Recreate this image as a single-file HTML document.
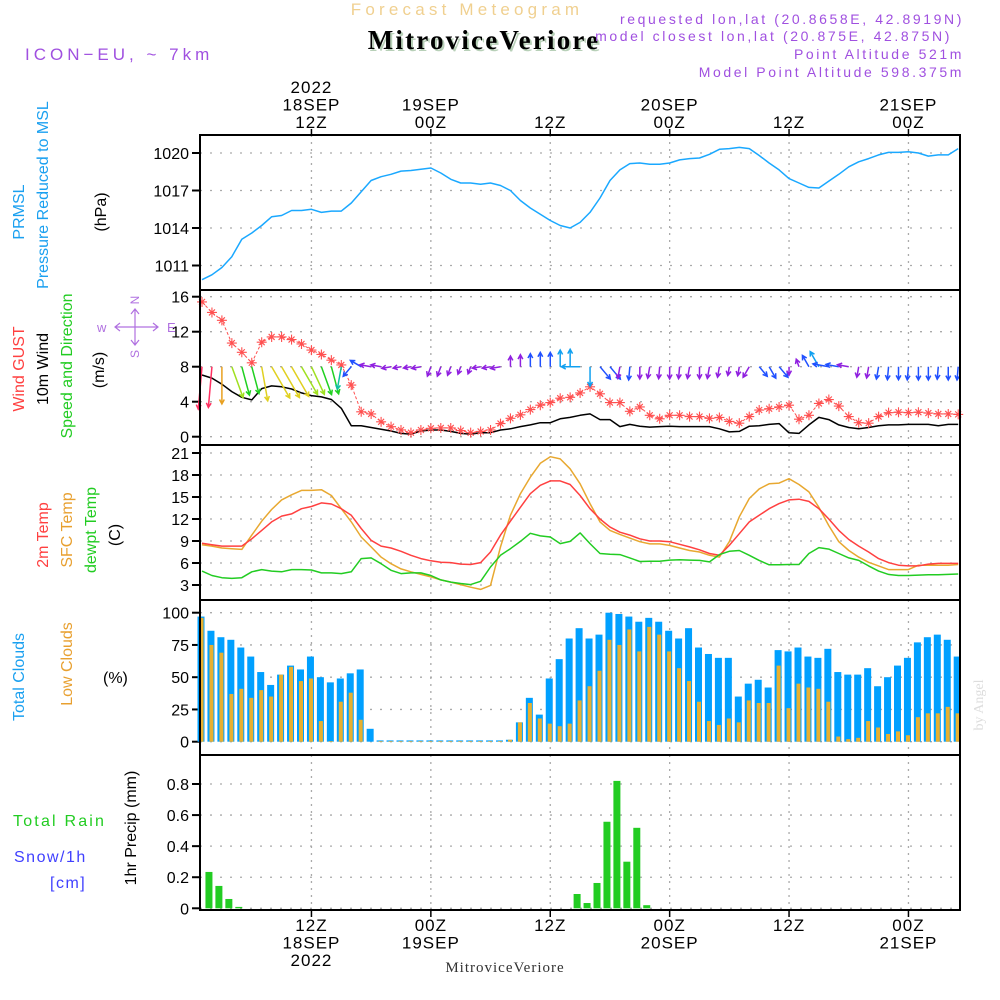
<!DOCTYPE html>
<html><head><meta charset="utf-8"><style>
html,body{margin:0;padding:0;background:#fff;}
svg{display:block;font-family:"Liberation Sans",sans-serif;}
</style></head><body>
<svg id="chart" width="1000" height="1000" viewBox="0 0 1000 1000" xmlns="http://www.w3.org/2000/svg">
<text x="467" y="15" font-size="17" fill="#f0d090" text-anchor="middle" letter-spacing="4.2">Forecast Meteogram</text>
<text x="486" y="51" font-size="27" font-weight="bold" font-family="Liberation Serif,serif" fill="#b8d0b8" text-anchor="middle" letter-spacing="2.2">MitroviceVeriore</text>
<text x="484" y="49" font-size="27" font-weight="bold" font-family="Liberation Serif,serif" fill="#000" text-anchor="middle" letter-spacing="2.2">MitroviceVeriore</text>
<text x="25" y="60" font-size="17" fill="#a050e0" letter-spacing="4">ICON−EU, ~ 7km</text>
<g font-size="14" fill="#a050e0" text-anchor="end" letter-spacing="2.6">
<text x="964" y="24">requested lon,lat (20.8658E, 42.8919N)</text>
<text x="952" y="41">model closest lon,lat (20.875E, 42.875N)</text>
<text x="964" y="59">Point Altitude 521m</text>
<text x="964" y="77">Model Point Altitude 598.375m</text>
</g>
<text x="505" y="972" font-size="15" font-family="Liberation Serif,serif" fill="#333" text-anchor="middle" letter-spacing="1">MitroviceVeriore</text>
<text transform="translate(983,705) rotate(-90)" font-size="14" font-family="Liberation Serif,serif" fill="#ddd" text-anchor="middle">by Angel</text>
<g id="g"></g>
</svg>
<script>
// ---------- data (hour index t = 1..77, starting 18SEP 01Z) ----------
const hours = Array.from({length:77},(_,i)=>i+1);
const pressure = [1009.86,1010.26,1010.84,1011.7,1013.1,1013.6,1014.2,1014.9,1015.0,1015.4,1015.4,1015.5,1015.25,1015.35,1015.35,1016.0,1016.9,1017.8,1018.1,1018.3,1018.55,1018.6,1018.7,1018.8,1018.4,1017.9,1017.6,1017.6,1017.5,1017.6,1017.4,1017.0,1016.2,1015.6,1015.1,1014.6,1014.2,1014.0,1014.45,1015.25,1016.4,1017.8,1018.65,1019.15,1019.2,1019.1,1019.1,1019.2,1019.45,1019.55,1019.6,1019.9,1020.3,1020.35,1020.45,1020.35,1019.8,1019.2,1018.65,1017.95,1017.6,1017.25,1017.2,1017.75,1018.3,1018.9,1019.3,1019.55,1019.85,1020.05,1020.05,1020.1,1020.0,1019.75,1019.85,1019.85,1020.35];
const gust = [15.4,14.2,13.3,10.7,9.65,8.45,10.8,11.4,11.4,11.1,10.6,9.9,9.4,8.75,8.2,5.9,2.85,2.6,1.7,1.15,0.77,0.46,0.77,0.96,1.0,1.0,0.7,0.46,0.6,0.77,1.5,2.1,2.5,3.1,3.6,3.9,4.4,4.5,5.0,5.7,4.9,3.9,3.9,2.9,3.4,2.45,2.05,2.45,2.45,2.3,2.3,2.1,2.2,1.75,1.55,2.3,3.05,3.2,3.4,3.6,2.0,2.45,3.8,4.25,3.5,2.3,1.6,1.55,2.3,2.75,2.8,2.75,2.8,2.7,2.6,2.6,2.55];
const wind10 = [7.05,6.7,6.0,5.15,4.5,4.2,5.5,5.8,5.7,5.45,5.0,4.7,4.55,4.25,3.25,1.25,1.25,1.05,0.85,0.65,0.38,0.3,0.65,0.77,0.77,0.6,0.38,0.3,0.46,0.46,0.77,0.9,1.15,1.35,1.6,1.6,2.05,2.2,2.45,2.6,1.95,1.95,1.15,1.4,1.2,1.1,1.15,1.2,1.15,1.15,1.15,1.15,0.9,0.55,0.6,1.2,1.25,1.4,1.5,0.45,0.38,1.35,2.2,1.95,1.35,1.05,0.9,1.05,1.25,1.35,1.35,1.4,1.4,1.4,1.25,1.4,1.4];
const windDir = [5,5,0,340,345,345,350,330,330,330,330,335,340,345,10,40,120,100,100,80,80,80,80,20,20,20,20,20,80,80,80,180,180,180,180,180,180,180,90,0,320,320,10,5,0,10,5,0,5,10,0,10,10,10,10,30,320,330,320,0,160,150,150,100,100,100,10,10,10,5,0,5,0,0,5,0,5];
const temp2m = [8.7,8.5,8.3,8.3,8.3,9.3,10.45,11.6,12.4,12.7,13.4,13.7,14.2,14.05,13.4,12.5,10.7,9.1,8.3,8.05,7.6,7.05,6.6,6.3,6.1,6.05,5.85,5.8,6.05,7.5,9.8,11.7,13.6,15.45,16.6,17.2,17.2,16.7,15.2,13.4,12.0,10.9,10.2,9.8,9.3,9.0,9.0,8.9,8.55,8.2,7.8,7.3,7.05,8.4,10.0,11.6,12.5,13.4,14.1,14.6,14.7,14.4,13.4,12.0,10.45,9.2,8.3,7.5,6.6,6.05,5.7,5.6,5.6,5.85,5.95,5.95,5.95];
const tempSfc = [8.5,8.3,8.05,7.95,7.85,9.8,11.7,13.3,14.6,15.3,15.9,15.9,16.0,15.2,13.4,11.6,9.55,8.2,6.8,5.9,5.2,4.8,4.45,4.1,3.7,3.4,3.05,2.7,2.4,2.95,8.2,12.5,15.45,17.7,19.6,20.5,20.2,18.85,16.8,14.1,11.6,10.45,9.9,9.4,8.9,8.6,8.6,8.4,8.05,7.7,7.5,7.05,6.8,8.9,12.3,14.8,16.1,16.8,16.9,17.5,16.7,15.7,13.6,11.1,8.9,7.7,6.8,6.1,5.6,5.1,5.1,5.1,5.7,5.7,5.7,5.7,5.8];
const dewpt = [4.9,4.3,4.0,3.9,4.0,4.8,5.1,4.9,4.8,5.1,5.1,5.05,4.65,4.65,4.55,4.8,6.6,6.7,5.9,5.0,4.55,4.65,4.65,4.3,3.7,3.4,3.2,3.05,3.5,5.45,7.05,7.95,8.95,10.05,9.7,9.55,8.65,8.95,10.1,8.65,7.3,7.2,7.15,6.7,6.2,6.25,6.25,6.4,6.45,6.4,6.35,6.15,7.15,7.6,7.7,7.05,6.35,5.75,5.75,5.8,5.8,7.3,8.1,7.9,7.3,6.7,6.35,5.6,4.9,4.45,4.3,4.3,4.35,4.4,4.4,4.45,4.5];
const totalClouds = [97,86,81,79,73,66,54,44,52,59,56,66,50,46,49,53,56,10,1,1,1,1,1,1,1,1,1,1,1,1,1,1.5,15,34,21,49,64,80,88,80,83,100,99,97,93,96,93,86,80,88,73,68,65,65,35,45,48,42,71,70,73,66,65,72,54,52,52,57,43,50,59,65,77,81,83,79,66];
const lowClouds = [96,75,69,37,41,34,40,35,52,58,47,49,16,0.5,31,38,17,0,0.5,0.5,0.5,0.5,0.5,0.5,0.5,0.5,0.5,0.5,0.5,0.5,0.5,1.5,15,30,18,14,12,14,32,43,55,79,75,87,70,89,83,70,57,47,31,16,13,18,15,32,30,30,59,26,45,42,41,31,4,2,3,16,11,6,8,5,19,22,22,27,22];
const precip = [0,0.234,0.144,0.06,0.009,0,0,0,0,0,0,0,0,0,0,0,0,0,0,0,0,0,0,0,0,0,0,0,0,0,0,0,0,0,0,0,0,0,0.092,0.034,0.163,0.557,0.82,0.3,0.518,0.02,0,0,0,0,0,0,0,0,0,0,0,0,0,0,0,0,0,0,0,0,0,0,0,0,0,0,0,0,0,0,0];
const pTicks = [1011,1014,1017,1020];
const wTicks = [0,4,8,12,16];
const tTicks = [3,6,9,12,15,18,21];
const cTicks = [0,25,50,75,100];
const rTicks = [0,0.2,0.4,0.6,0.8];
const timeTicks = [12,24,36,48,60,72];
const topLabels = [["2022","18SEP","12Z"],["","19SEP","00Z"],["","","12Z"],["","20SEP","00Z"],["","","12Z"],["","21SEP","00Z"]];
const botLabels = [["12Z","18SEP","2022"],["00Z","19SEP",""],["12Z","",""],["00Z","20SEP",""],["12Z","",""],["00Z","21SEP",""]];

// ---------- scales ----------
const L=200,R=960;
const x = t => 202 + (t-1)*9.95;
const lin = (d0,d1,r0,r1) => v => r0 + (v-d0)*(r1-r0)/(d1-d0);
const yP = lin(1011,1020,265.5,153);
const yW = lin(0,16,436.7,296.7);
const yT = lin(3,21,585,453);
const yC = lin(0,100,741.7,612.7);
const yR = lin(0,0.8,908.3,784);
const panels = [[135,290],[290,445],[445,600],[600,755],[755,910]];

const NS="http://www.w3.org/2000/svg";
const g=document.getElementById('g');
function mk(tag,attrs,parent){const e=document.createElementNS(NS,tag);for(const k in attrs)e.setAttribute(k,attrs[k]);(parent||g).appendChild(e);return e;}
function txt(s,attrs,parent){const e=mk('text',attrs,parent);e.textContent=s;return e;}

// grids
const grid=mk('g',{});


panels.forEach(p=>{timeTicks.forEach(t=>{const ln=mk('line',{x1:x(t),x2:x(t),y1:p[0],y2:p[1],stroke:'#aaa','stroke-width':1.3,'stroke-dasharray':'2,5'},grid);

});});
function hgrid(ticks,ys,name){ticks.forEach(v=>{const ln=mk('line',{x1:L,x2:R,y1:ys(v),y2:ys(v),stroke:'#aaa','stroke-width':1.3,'stroke-dasharray':'2,8'},grid);

});}
hgrid(pTicks,yP,'pressure');hgrid(wTicks,yW,'wind');hgrid(tTicks,yT,'temp');hgrid(cTicks,yC,'cloud');hgrid(rTicks,yR,'precip');

// y ticks & labels
function yaxis(ticks,ys,name,fmt){const ga=mk('g',{});


ticks.forEach(v=>{mk('line',{x1:L-8,x2:L,y1:ys(v),y2:ys(v),stroke:'#000','stroke-width':2},ga);
const t=txt(fmt?fmt(v):String(v),{x:L-11,y:ys(v)+6,'font-size':16,'text-anchor':'end',fill:'#000'},ga);

});}
yaxis(pTicks,yP,'pressure');yaxis(wTicks,yW,'wind');yaxis(tTicks,yT,'temp');yaxis(cTicks,yC,'cloud');
yaxis(rTicks,yR,'precip',v=>v===0?'0':String(v));

// clouds bars
const cg=mk('g',{});


hours.forEach((t,i)=>{const v=totalClouds[i];const b=mk('rect',{x:x(t)-4.5,y:yC(v),width:7,height:yC(0)-yC(v),fill:'#00a0ff'},cg);


const lv=lowClouds[i];const b2=mk('rect',{x:x(t)-2.5,y:yC(lv),width:4,height:yC(0)-yC(lv),fill:'#e8b030'},cg);

});

// precip bars
const rg=mk('g',{});


hours.forEach((t,i)=>{const v=precip[i];if(v<=0)return;const b=mk('rect',{x:x(t)-6.5,y:yR(v),width:7,height:yR(0)-yR(v),fill:'#22cc22'},rg);

});

// lines
function line(arr,ys,color,name,w){const d=hours.map((t,i)=>(i?'L':'M')+x(t).toFixed(1)+' '+ys(arr[i]).toFixed(1)).join(' ');
const p=mk('path',{d:d,fill:'none',stroke:color,'stroke-width':w||1.5,'stroke-linejoin':'round'});

return p;}
line(pressure,yP,'#1aa8ff','pressure-line');
line(tempSfc,yT,'#e8a830','sfc-temp-line');
line(temp2m,yT,'#ff4040','temp-2m-line');
line(dewpt,yT,'#22cc22','dewpoint-line');
line(wind10,yW,'#000','wind-10m-line');
line(gust,yW,'#ff5050','wind-gust-line',1).setAttribute('stroke-dasharray','3,2');
const gm=mk('g',{stroke:'#ff5050','stroke-width':1.1});


hours.forEach((t,i)=>{const cx=x(t),cy=yW(gust[i]);mk('path',{d:`M${cx-5} ${cy}H${cx+5}M${cx} ${cy-5}V${cy+5}M${cx-3} ${cy-3}L${cx+3} ${cy+3}M${cx-3} ${cy+3}L${cx+3} ${cy-3}`},gm);});

// wind arrows
function wcol(s){if(s>6.5)return'#ff3060';if(s>5.8)return'#e8a020';if(s>5.2)return'#e0d020';if(s>4.6)return'#a0e020';if(s>4.1)return'#20d020';if(s>3)return'#10c0a0';if(s>2)return'#10a0f0';if(s>1.2)return'#2050ff';return'#9020e0';}
const ag=mk('g',{fill:'none','stroke-width':1.5});


hours.forEach((t,i)=>{const s=wind10[i],a=(windDir[i]+180)*Math.PI/180;const len=6+s*5.2;
const dx=Math.sin(a),dy=-Math.cos(a);const x0=x(t),y0=yW(8);const x1=x0+dx*len,y1=y0+dy*len;
const h=5,ang=0.5;const bx=-dx,by=-dy;
const hx1=x1+h*(bx*Math.cos(ang)-by*Math.sin(ang)),hy1=y1+h*(bx*Math.sin(ang)+by*Math.cos(ang));
const hx2=x1+h*(bx*Math.cos(-ang)-by*Math.sin(-ang)),hy2=y1+h*(bx*Math.sin(-ang)+by*Math.cos(-ang));
const p=mk('path',{d:`M${x0} ${y0}L${x1} ${y1}M${hx1} ${hy1}L${x1} ${y1}L${hx2} ${hy2}`,stroke:wcol(s)},ag);

});

// panel frames
panels.forEach((p,i)=>{const r=mk('rect',{x:L,y:p[0],width:R-L,height:p[1]-p[0],fill:'none',stroke:'#000','stroke-width':2});

});

// time axis labels
timeTicks.forEach((t,i)=>{mk('line',{x1:x(t),x2:x(t),y1:135,y2:129,stroke:'#000','stroke-width':1.5});mk('line',{x1:x(t),x2:x(t),y1:910,y2:917,stroke:'#000','stroke-width':1.5});
const tl=topLabels[i];[0,1,2].forEach(k=>{if(!tl[k])return;const e=txt(tl[k],{x:x(t),y:93+k*17.5,'font-size':17,'text-anchor':'middle',fill:'#000','letter-spacing':1});

});
const bl=botLabels[i];[0,1,2].forEach(k=>{if(!bl[k])return;const e=txt(bl[k],{x:x(t),y:931+k*17.5,'font-size':17,'text-anchor':'middle',fill:'#000','letter-spacing':1});

});});

// rotated panel titles
function rt(s,cx,cy,color,name){const e=txt(s,{transform:`translate(${cx},${cy}) rotate(-90)`,'font-size':16,'text-anchor':'middle',fill:color});

}
rt('PRMSL',24,212,'#1aa0f0','prmsl-title');
rt('Pressure Reduced to MSL',48,195,'#1aa0f0','pressure-title');
rt('(hPa)',106,212,'#000','pressure-unit');
rt('Wind GUST',24,369,'#ff4040','gust-title');
rt('10m Wind',48,369,'#000','wind-title');
rt('Speed and Direction',72,366,'#22cc22','wind-dir-title');
rt('(m/s)',104,370,'#000','wind-unit');
rt('2m Temp',48,535,'#ff4040','temp-2m-title');
rt('SFC Temp',72,530,'#e8a030','sfc-temp-title');
rt('dewpt Temp',96,530,'#22cc22','dewpt-title');
rt('(C)',120,535,'#000','temp-unit');
rt('Total Clouds',24,677,'#1aa0f0','total-clouds-title');
rt('Low Clouds',72,664,'#e8a030','low-clouds-title');
rt('1hr Precip (mm)',136,828,'#000','precip-title');
const pu=txt('(%)',{x:103,y:683,'font-size':16,fill:'#000'});


const tr=txt('Total  Rain',{x:13,y:826,'font-size':16,fill:'#22cc22','letter-spacing':2.2});


const sn=txt('Snow/1h',{x:14,y:862,'font-size':16,fill:'#4040ff','letter-spacing':1.5});


const cm=txt('[cm]',{x:50,y:888,'font-size':16,fill:'#4040ff','letter-spacing':1.5});



// compass
const cp=mk('g',{stroke:'#b070e0',fill:'#b070e0','stroke-width':1.2});


mk('path',{d:'M116 327H157M120 323L115 327L120 331M153 323L158 327L153 331M135 310V344M131 314L135 309L139 314M131 340L135 345L139 340',fill:'none'},cp);
txt('w',{x:97,y:332,'font-size':13,stroke:'none'},cp);
txt('E',{x:167,y:332,'font-size':13,stroke:'none'},cp);
txt('N',{transform:'translate(139,300) rotate(-90)','font-size':12,'text-anchor':'middle',stroke:'none'},cp);
txt('S',{transform:'translate(139,354) rotate(-90)','font-size':12,'text-anchor':'middle',stroke:'none'},cp);
</script>
</body></html>
